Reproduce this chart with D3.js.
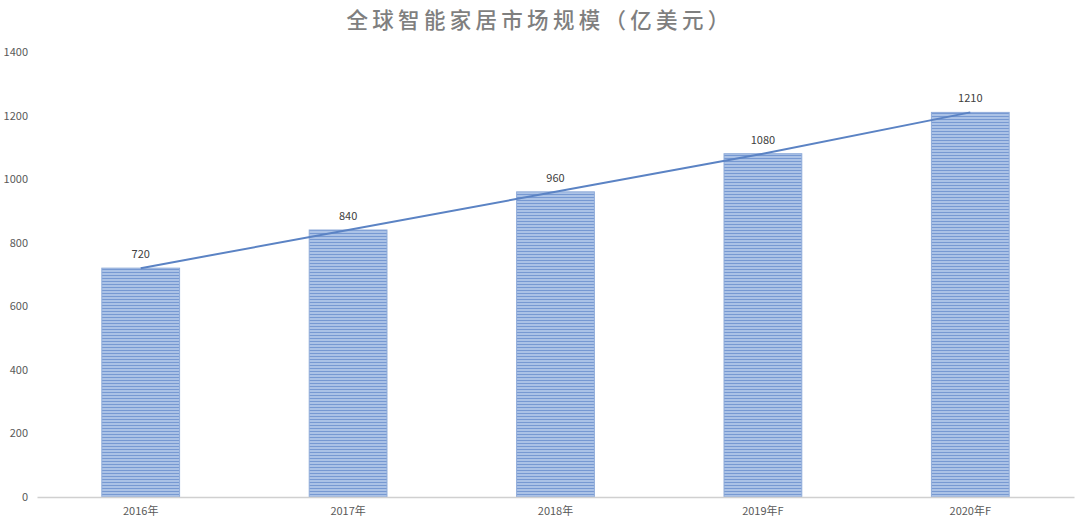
<!DOCTYPE html>
<html>
<head>
<meta charset="utf-8">
<script src="https://cdn.jsdelivr.net/npm/d3@7"></script>
<style>
  body { margin: 0; background: #fff; }
  text { font-family: "Noto Sans CJK SC", "Noto Sans", sans-serif; }
</style>
</head>
<body>
<script>
const years = ['2016年', '2017年', '2018年', '2019年F', '2020年F']
const values = [720, 840, 960, 1080, 1210]
const yTicks = [0, 200, 400, 600, 800, 1000, 1200, 1400]
const title = '全球智能家居市场规模（亿美元）'

var width = 1080, height = 526
var mLeft = 37, mRight = 1074, mTop = 52, mBottom = 497

var svg = d3.select('body').append('svg')
            .attr('width', width)
            .attr('height', height)

// striped fill for the bars
var pat = svg.append('defs').append('pattern')
             .attr('id', 'stripes')
             .attr('patternUnits', 'userSpaceOnUse')
             .attr('width', 8).attr('height', 3)
pat.append('rect').attr('width', 8).attr('height', 3).attr('fill', '#abc2e6')
pat.append('rect').attr('y', 2).attr('width', 8).attr('height', 1).attr('fill', '#7799d2')

var x = d3.scaleBand()
          .domain(years)
          .range([mLeft, mRight])
          .paddingInner(0.625)
          .paddingOuter(0.3125)

var y = d3.scaleLinear()
          .domain([0, 1400])
          .range([mBottom, mTop])

// title
svg.append('text')
   .attr('x', width / 2).attr('y', 28)
   .attr('text-anchor', 'middle')
   .attr('font-size', 21.5)
   .attr('letter-spacing', 4.3)
   .attr('fill', '#7f7f7f')
   .attr('font-weight', 500)
   .text(title)

// y axis labels
svg.append('g').selectAll('text')
   .data(yTicks).join('text')
   .attr('x', 28).attr('y', d => y(d) + 4)
   .attr('text-anchor', 'end')
   .attr('font-size', 11)
   .attr('fill', '#595959')
   .text(d => d)

// bars
svg.append('g').selectAll('rect')
   .data(values).join('rect')
   .attr('x', (d, i) => x(years[i]))
   .attr('y', d => y(d))
   .attr('width', x.bandwidth())
   .attr('height', d => mBottom - y(d))
   .attr('fill', 'url(#stripes)')
   .attr('stroke', '#8fabd9')
   .attr('stroke-width', 1)

// x axis
var xAxis = svg.append('g')
               .attr('transform', 'translate(0,' + mBottom + ')')
               .call(d3.axisBottom(x).tickSize(0).tickPadding(10))
xAxis.select('.domain').attr('stroke', '#d0d0d0').attr('stroke-width', 1.5)
xAxis.selectAll('text')
     .attr('font-size', 11)
     .attr('fill', '#595959')
     .attr('font-family', '"Noto Sans CJK SC", sans-serif')

// trend line through bar tops
var line = d3.line()
             .x((d, i) => x(years[i]) + x.bandwidth() / 2)
             .y(d => y(d))
svg.append('path')
   .datum(values)
   .attr('d', line)
   .attr('fill', 'none')
   .attr('stroke', '#5b83c4')
   .attr('stroke-width', 2)

// value labels
svg.append('g').selectAll('text')
   .data(values).join('text')
   .attr('x', (d, i) => x(years[i]) + x.bandwidth() / 2)
   .attr('y', d => y(d) - 10)
   .attr('text-anchor', 'middle')
   .attr('font-size', 11)
   .attr('fill', '#404040')
   .text(d => d)
</script>
</body>
</html>
